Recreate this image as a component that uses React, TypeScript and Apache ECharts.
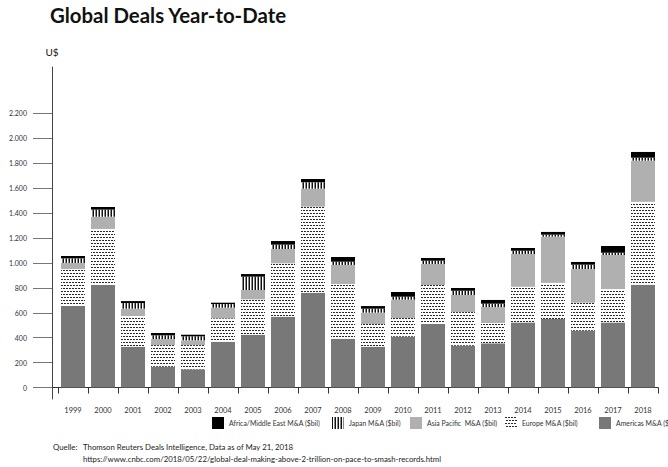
import React, { useEffect, useRef } from "react";
import * as echarts from "echarts";

const years = ["1999", "2000", "2001", "2002", "2003", "2004", "2005", "2006", "2007", "2008", "2009", "2010", "2011", "2012", "2013", "2014", "2015", "2016", "2017", "2018"];
const americas = [654, 823, 328, 167, 146, 368, 424, 568, 761, 392, 328, 408, 510, 336, 355, 523, 550, 456, 523, 825];
const europe = [297, 450, 246, 174, 195, 188, 284, 429, 691, 439, 182, 150, 313, 270, 163, 286, 291, 225, 268, 667];
const asiaPacific = [49, 98, 59, 48, 38, 85, 75, 115, 144, 153, 91, 147, 169, 137, 128, 263, 370, 270, 273, 329];
const japan = [37, 57, 45, 30, 32, 29, 107, 35, 52, 26, 32, 24, 26, 34, 27, 26, 16, 35, 18, 24];
const africaME = [19, 21, 16, 19, 13, 11, 21, 29, 26, 38, 21, 38, 22, 22, 30, 22, 22, 22, 54, 46];
const yTicks = [0, 200, 400, 600, 800, 1000, 1200, 1400, 1600, 1800, 2000, 2200];

const names = {
  africa: "Africa/Middle East M&A ($bil)",
  japan: "Japan M&A ($bil)",
  asia: "Asia Pacific  M&A ($bil)",
  europe: "Europe M&A ($bil)",
  americas: "Americas M&A ($bil)",
};

const FONT = "Lato";

function makePattern(w: number, h: number, draw: (ctx: CanvasRenderingContext2D) => void) {
  const c = document.createElement("canvas");
  c.width = w;
  c.height = h;
  const ctx = c.getContext("2d") as CanvasRenderingContext2D;
  draw(ctx);
  return { image: c, repeat: "repeat", imageWidth: w, imageHeight: h } as any;
}

function fmt(v: number) {
  return String(v).replace(/\B(?=(\d{3})+(?!\d))/g, ".");
}

export default function App() {
  const ref = useRef<HTMLDivElement>(null);
  useEffect(() => {
    if (!ref.current) return;
    const chart = echarts.init(ref.current, undefined, { renderer: "svg" });

    const europePattern = makePattern(6, 6, (ctx) => {
      ctx.fillStyle = "#ffffff";
      ctx.fillRect(0, 0, 6, 6);
      ctx.fillStyle = "#2a2a2a";
      ctx.fillRect(0, 0, 2, 1);
      ctx.fillRect(3, 0, 2, 1);
      ctx.fillRect(1, 3, 2, 1);
      ctx.fillRect(4, 3, 2, 1);
    });
    const japanPattern = makePattern(3, 4, (ctx) => {
      ctx.fillStyle = "#ffffff";
      ctx.fillRect(0, 0, 3, 4);
      ctx.fillStyle = "#111111";
      ctx.fillRect(0, 0, 1, 4);
      ctx.fillStyle = "#8a8a8a";
      ctx.fillRect(2, 0, 1, 4);
    });

    const barBase = { type: "bar", stack: "total", barWidth: 24 };
    const legendBase = {
      top: 417,
      padding: 0,
      itemWidth: 12,
      itemHeight: 12,
      icon: "rect",
      textStyle: { fontSize: 6.9, color: "#333", fontFamily: FONT },
    };

    chart.setOption({
      animation: false,
      backgroundColor: "#ffffff",
      title: {
        text: "Global Deals Year-to-Date",
        left: 50,
        top: 5,
        padding: 0,
        textStyle: { fontSize: 20.4, fontWeight: "bold", color: "#111", fontFamily: FONT },
      },
      legend: [
        { ...legendBase, left: 212, data: [names.africa] },
        { ...legendBase, left: 332, data: [names.japan] },
        { ...legendBase, left: 410, data: [names.asia] },
        { ...legendBase, left: 505, data: [names.europe] },
        { ...legendBase, left: 599, data: [names.americas] },
      ],
      grid: { left: 58, right: 10, top: 67, bottom: 68, containLabel: false },
      xAxis: {
        type: "category",
        data: years,
        axisLine: { onZero: true, lineStyle: { color: "#333", width: 1 } },
        axisTick: { show: true, length: 6, lineStyle: { color: "#333" } },
        axisLabel: { interval: 0, fontSize: 7.5, color: "#333", margin: 7, fontFamily: FONT },
      },
      yAxis: {
        type: "value",
        min: -92,
        max: 2573,
        offset: 6,
        name: "U$",
        nameLocation: "end",
        nameGap: 10,
        nameTextStyle: { fontSize: 10, color: "#111", fontFamily: FONT },
        axisLine: { show: true, onZero: false, lineStyle: { color: "#444", width: 1 } },
        axisTick: { show: true, length: 19, customValues: yTicks, lineStyle: { color: "#777" } },
        axisLabel: {
          customValues: yTicks,
          formatter: (v: number) => fmt(v),
          fontSize: 7,
          color: "#333",
          margin: 25,
          fontFamily: FONT,
        },
        splitLine: { show: false },
      },
      graphic: [
        { type: "line", shape: { x1: 52, y1: 387.5, x2: 58, y2: 387.5 }, style: { stroke: "#333", lineWidth: 1 } },
        {
          type: "text",
          x: 53,
          y: 447,
          style: { text: "Quelle:", fontSize: 7.8, fontFamily: FONT, fill: "#222", verticalAlign: "middle" },
        },
        {
          type: "text",
          x: 83,
          y: 447,
          style: {
            text: "Thomson Reuters Deals Intelligence, Data as of May 21, 2018",
            fontSize: 7.8,
            fontFamily: FONT,
            fill: "#222",
            verticalAlign: "middle",
          },
        },
        {
          type: "text",
          x: 83,
          y: 459,
          style: {
            text: "https://www.cnbc.com/2018/05/22/global-deal-making-above-2-trillion-on-pace-to-smash-records.html",
            fontSize: 7.8,
            fontFamily: FONT,
            fill: "#222",
            verticalAlign: "middle",
          },
        },
      ],
      series: [
        { ...barBase, name: names.americas, data: americas, itemStyle: { color: "#787878" } },
        { ...barBase, name: names.europe, data: europe, itemStyle: { color: europePattern } },
        { ...barBase, name: names.asia, data: asiaPacific, itemStyle: { color: "#b0b0b0" } },
        { ...barBase, name: names.japan, data: japan, itemStyle: { color: japanPattern } },
        { ...barBase, name: names.africa, data: africaME, itemStyle: { color: "#000000" } },
      ],
    });
    return () => chart.dispose();
  }, []);
  return <div ref={ref} style={{ position: "fixed", left: 0, top: 0, width: 668, height: 467 }} />;
}
